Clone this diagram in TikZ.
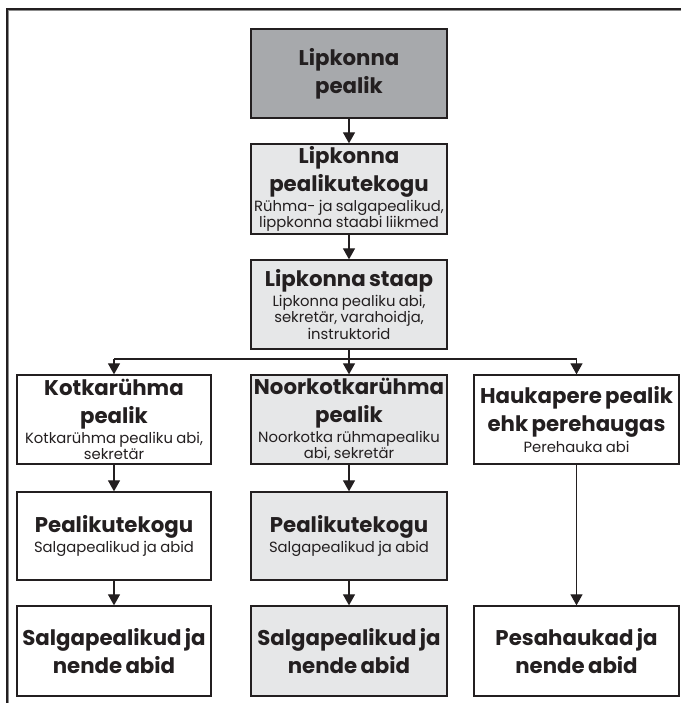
\documentclass[tikz,border=0pt]{standalone}
\usepackage{fontspec}
\setmainfont{Poppins}[WordSpace=1.4]
\usetikzlibrary{arrows.meta}
\definecolor{ink}{HTML}{231F20}
\definecolor{darkfill}{HTML}{A7A9AC}
\definecolor{lightfill}{HTML}{E6E7E8}
\newcommand\ttltxt[1]{{\fontsize{21.3}{28}\selectfont\bfseries #1\par}}
\newcommand\subtxt[1]{{\vspace{2pt}\fontsize{14.8}{16.5}\selectfont #1\par}}
\begin{document}
\begin{tikzpicture}[x=1pt,y=-1pt,
  box/.style={draw=ink, line width=1.3pt, fill=white, inner sep=0pt, align=center,
    minimum width=196pt, text width=194pt, minimum height=89pt, text=ink},
  widebox/.style={box, minimum width=205pt, text width=203pt},
  narrowbox/.style={box, minimum width=194pt, text width=192pt},
  grey/.style={fill=lightfill},
  dark/.style={fill=darkfill},
  arr/.style={draw=ink, line width=1.2pt, -{Triangle[length=11pt,width=12pt]}},
  ln/.style={draw=ink, line width=1.2pt}]
\useasboundingbox (0,0) rectangle (681,703);
% frame
\draw[line width=1pt, black!45] (681,10.5) -- (8.5,10.5) -- (8.5,703);
\draw[line width=1.8pt, ink] (681,9) -- (7,9) -- (7,703);

\node[box, dark] (top) at (349,73.5) {\ttltxt{Lipkonna\\pealik}};
\node[box, grey, minimum height=90pt] (s2) at (349,189) {\ttltxt{Lipkonna\\pealikutekogu}\subtxt{Rühma- ja salgapealikud,\\lippkonna staabi liikmed}};
\node[box, grey] (s3) at (349,304.5) {\ttltxt{Lipkonna staap}\subtxt{Lipkonna pealiku abi,\\sekretär, varahoidja,\\instruktorid}};

\node[narrowbox] (a1) at (114,419.5) {\ttltxt{Kotkarühma\\pealik}\subtxt{Kotkarühma pealiku abi,\\sekretär}};
\node[box, grey] (b1) at (349,419.5) {\ttltxt{Noorkotkarühma\\pealik}\subtxt{Noorkotka rühmapealiku\\abi, sekretär}};
\node[widebox] (c1) at (576.5,419.5) {\ttltxt{Haukapere pealik\\ehk perehaugas}\subtxt{Perehauka abi}};

\node[narrowbox, minimum height=88pt] (a2) at (114,536) {\ttltxt{Pealikutekogu}\subtxt{Salgapealikud ja abid}};
\node[box, grey, minimum height=88pt] (b2) at (349,536) {\ttltxt{Pealikutekogu}\subtxt{Salgapealikud ja abid}};

\node[narrowbox, minimum height=90pt] (a3) at (114,651) {\ttltxt{Salgapealikud ja\\nende abid}};
\node[box, grey, minimum height=90pt] (b3) at (349,651) {\ttltxt{Salgapealikud ja\\nende abid}};
\node[widebox, minimum height=90pt] (c3) at (576.5,651) {\ttltxt{Pesahaukad ja\\nende abid}};

\draw[arr] (top) -- (s2);
\draw[arr] (s2) -- (s3);
\coordinate (j) at (349,359);
\draw[ln] (s3.south) -- (j);
\draw[ln] (a1.north |- j) -- (c1.north |- j);
\draw[arr] (a1.north |- j) -- (a1.north);
\draw[arr] (j) -- (b1.north);
\draw[arr] (c1.north |- j) -- (c1.north);
\draw[arr] (a1) -- (a2);
\draw[arr] (b1) -- (b2);
\draw[arr] (a2) -- (a3);
\draw[arr] (b2) -- (b3);
\draw[arr] (c1) -- (c3);
\end{tikzpicture}
\end{document}
